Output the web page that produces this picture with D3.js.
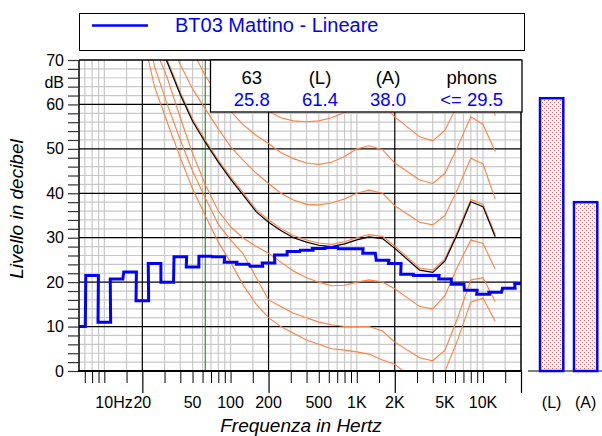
<!DOCTYPE html>
<html>
<head>
<meta charset="utf-8">
<title>BT03 Mattino - Lineare</title>
<script src="https://cdnjs.cloudflare.com/ajax/libs/d3/7.8.5/d3.min.js"></script>
<style>
  body { margin: 0; background: #fff; }
  svg text { font-family: "Liberation Sans", Arial, sans-serif; }
</style>
</head>
<body>
<svg id="chart" width="602" height="436"></svg>
<script>

// measured third-octave spectrum (dB)
var bandFreqs  = [6.3, 8, 10, 12.5, 16, 20, 25, 31.5, 40, 50, 63, 80, 100, 125, 160, 200, 250, 315, 400, 500,
                  630, 800, 1000, 1250, 1600, 2000, 2500, 3150, 4000, 5000, 6300, 8000, 10000, 12500, 16000, 20000];
var bandLevels = [10.0, 21.5, 11.0, 20.7, 22.3, 15.8, 24.2, 20.0, 25.7, 23.4, 25.8, 25.7, 24.5, 24.0, 23.6, 24.3, 26.1, 26.9, 27.2, 27.6,
                  27.8, 27.5, 27.5, 26.5, 24.9, 24.2, 21.8, 21.5, 21.5, 20.7, 19.5, 18.2, 17.3, 17.7, 18.6, 19.7];

// equal loudness contours
var contourFreqs = [20, 25, 31.5, 40, 50, 63, 80, 100, 125, 160, 200, 250, 315, 400, 500, 630, 800, 1000, 1250, 1600,
                    2000, 3150, 4000, 5000, 6300, 8000, 10000, 12500];
var contourMAF = [76, 64, 56, 48, 41, 35, 29, 24.5, 19.5, 15, 12, 10, 8.5, 7, 6, 5, 4.7, 4.3, 3.8, 2.5,
                  1.5, -3, -3.5, 0, 7, 15.5, 16.4, 11.2];
var contour10 = [82, 68.5, 60, 52, 45, 39, 33, 29.5, 26.5, 21, 16, 14.5, 13, 12, 11, 10.4, 10, 10, 10, 9,
                 6.5, 3, 2.3, 4.7, 12, 20.5, 21, 15.6];
var contour20 = [88, 73, 66, 57, 49, 42, 36, 32.5, 30, 28, 26.5, 24.5, 22.5, 21, 20, 19.2, 19.3, 20, 20.5, 20,
                 18.5, 14.5, 14, 17, 23.5, 29.5, 28.7, 22.9];
var contour30 = [82.5, 76.5, 70, 62.7, 56.7, 52, 47.5, 43.7, 40.2, 36.3, 34, 32.1, 30.5, 29.5, 28.8, 28.5, 29.1, 30, 30.7, 30.3,
                 28.1, 23.2, 22.7, 25.3, 31.5, 38.6, 37.5, 30.7];
var contour40 = [88, 82, 75.5, 69, 63.5, 59, 54.5, 50.5, 47.5, 44.5, 42.2, 40, 38.5, 37.5, 37.4, 37.8, 38.7, 40, 40.7, 40,
                 37.2, 33.5, 32.9, 35, 41, 47.9, 46.6, 38.7];
var contour50 = [92, 88, 83, 77.5, 72, 66.5, 62, 58.5, 55.5, 53, 51.2, 49.2, 47.8, 46.8, 46.5, 47, 48.3, 50, 50.7, 49.8,
                 46.8, 43, 42.2, 44.5, 50.5, 57.2, 55.5, 49.4];
var contour60 = [96, 93, 89, 85, 80.5, 76, 71.5, 67.5, 64, 61, 58.5, 57, 56.3, 56.1, 56.3, 57, 58.2, 60, 60.8, 60,
                 57.2, 52.7, 51.8, 54.2, 60, 67, 65.2, 57.5];
// contour of the measured loudness (29.5 phon)
var contourMeasured = [82, 76, 69.5, 62.2, 56.2, 51.5, 47, 43.2, 39.7, 35.8, 33.5, 31.6, 30.0, 29.0, 28.3, 28.0, 28.6, 29.5, 30.2, 29.8,
                       27.6, 22.7, 22.2, 24.8, 31, 38.1, 37.0, 30.2];

var totalLabels = ["(L)", "(A)"];
var totalValues = [61.4, 38.0];

var headerLabels = ["63", "(L)", "(A)", "phons"];
var headerValues = ["25.8", "61.4", "38.0", "<= 29.5"];

var xTickFreqs  = [10, 20, 50, 100, 200, 500, 1000, 2000, 5000, 10000];
var xTickLabels = ["10Hz", "20", "50", "100", "200", "500", "1K", "2K", "5K", "10K"];
var majorFreqs  = [20, 200, 2000, 20000];
var markFreq = 63;

(function() {
  var svg = d3.select("#chart");

  var pL = 79, pR = 521, pT = 60, pB = 371;

  var x = d3.scaleLog().domain([6.3, 20000]).range([pL, pR]);
  var y = d3.scaleLinear().domain([0, 70]).range([pB, pT]);

  // log grid frequencies 1, 1.5, 2, 3 ... 9 per decade
  var gridFreqs = [];
  [1, 10, 100, 1000, 10000].forEach(function(dec) {
    [1, 1.5, 2, 3, 4, 5, 6, 7, 8, 9].forEach(function(m) {
      var f = dec * m;
      if (f > 6.3 && f <= 20000) gridFreqs.push(f);
    });
  });
  var minorFreqs = gridFreqs.filter(function(f) { return majorFreqs.indexOf(f) < 0; });

  // legend
  svg.append("rect").attr("x", 79.5).attr("y", 13.5).attr("width", 445).attr("height", 37)
     .attr("fill", "#fff").attr("stroke", "#000").attr("stroke-width", 1);
  svg.append("line").attr("x1", 92).attr("x2", 148).attr("y1", 25.5).attr("y2", 25.5)
     .attr("stroke", "#0000ff").attr("stroke-width", 2.5);
  svg.append("text").attr("x", 175).attr("y", 32).attr("fill", "#0000ff")
     .style("font-size", "20px").text("BT03 Mattino - Lineare");

  // grid
  var grid = svg.append("g");
  grid.selectAll(".hg").data(d3.range(2, 70, 2).filter(function(d) { return d % 10 !== 0; }))
    .enter().append("line")
    .attr("x1", pL).attr("x2", pR)
    .attr("y1", function(d) { return y(d); }).attr("y2", function(d) { return y(d); })
    .attr("stroke", "#c8c8c8").attr("stroke-width", 1.2);
  grid.selectAll(".vg").data(minorFreqs)
    .enter().append("line")
    .attr("x1", function(d) { return x(d); }).attr("x2", function(d) { return x(d); })
    .attr("y1", pT).attr("y2", pB)
    .attr("stroke", "#c8c8c8").attr("stroke-width", 1.2);
  grid.selectAll(".hb").data(d3.range(10, 70, 10))
    .enter().append("line")
    .attr("x1", pL).attr("x2", pR)
    .attr("y1", function(d) { return y(d); }).attr("y2", function(d) { return y(d); })
    .attr("stroke", "#000").attr("stroke-width", 1.2);
  grid.selectAll(".vb").data([20, 200, 2000])
    .enter().append("line")
    .attr("x1", function(d) { return x(d); }).attr("x2", function(d) { return x(d); })
    .attr("y1", pT).attr("y2", pB)
    .attr("stroke", "#000").attr("stroke-width", 1.2);

  // 63 Hz marker
  svg.append("line").attr("x1", x(markFreq)).attr("x2", x(markFreq)).attr("y1", pT).attr("y2", pB)
     .attr("stroke", "#008000").attr("stroke-width", 1);

  // contours
  svg.append("clipPath").attr("id", "plotclip").append("rect")
     .attr("x", pL).attr("y", pT).attr("width", pR - pL).attr("height", pB - pT);

  var line = d3.line().x(function(d) { return x(d[0]); }).y(function(d) { return y(d[1]); });
  var curves = svg.append("g").attr("clip-path", "url(#plotclip)");

  [contourMAF, contour10, contour20, contour30, contour40, contour50, contour60].forEach(function(vals) {
    curves.append("path")
      .attr("d", line(contourFreqs.map(function(f, i) { return [f, vals[i]]; })))
      .attr("fill", "none").attr("stroke", "#ff8040").attr("stroke-width", 1.1);
  });
  curves.append("path")
    .attr("d", line(contourFreqs.map(function(f, i) { return [f, contourMeasured[i]]; })))
    .attr("fill", "none").attr("stroke", "#000").attr("stroke-width", 1.2);

  // measured spectrum as steps
  var stepPts = [];
  bandFreqs.forEach(function(f, i) {
    var lo = Math.max(f / Math.pow(10, 0.05), x.domain()[0]);
    var hi = Math.min(f * Math.pow(10, 0.05), x.domain()[1]);
    stepPts.push([lo, bandLevels[i]], [hi, bandLevels[i]]);
  });
  curves.append("path").attr("d", line(stepPts))
    .attr("fill", "none").attr("stroke", "#0000ff").attr("stroke-width", 3);

  // frame
  svg.append("line").attr("x1", pL).attr("x2", pR).attr("y1", pT).attr("y2", pT)
     .attr("stroke", "#000").attr("stroke-width", 1.5);
  svg.append("line").attr("x1", pL).attr("x2", pL).attr("y1", pT).attr("y2", pB)
     .attr("stroke", "#000").attr("stroke-width", 1.5);

  // y axis
  var yAxis = d3.axisLeft(y).tickValues(d3.range(0, 71, 2)).tickSize(11).tickPadding(4)
    .tickFormat(function(d) { return d % 10 === 0 ? d : ""; });
  var gy = svg.append("g").attr("transform", "translate(" + pL + ",0)").call(yAxis);
  gy.select(".domain").remove();
  gy.selectAll("line").attr("stroke", "#333").attr("stroke-width", 1.2);
  gy.selectAll("text").style("font-size", "16px").attr("fill", "#000");
  svg.append("text").attr("x", 64).attr("y", y(65)).attr("dy", "0.35em").attr("text-anchor", "end")
     .style("font-size", "16px").text("dB");

  // x axis
  var xAxis = d3.axisBottom(x).tickValues(minorFreqs).tickSize(12).tickFormat("");
  var gx = svg.append("g").attr("transform", "translate(0," + pB + ")").call(xAxis);
  gx.select(".domain").remove();
  gx.selectAll("line").attr("stroke", "#000").attr("stroke-width", 1);
  var xMajor = d3.axisBottom(x).tickValues(majorFreqs).tickSize(22).tickFormat("");
  var gxm = svg.append("g").attr("transform", "translate(0," + pB + ")").call(xMajor);
  gxm.select(".domain").remove();
  gxm.selectAll("line").attr("stroke", "#000").attr("stroke-width", 1.2);
  svg.append("line").attr("x1", pR).attr("x2", pR).attr("y1", pT).attr("y2", pB)
     .attr("stroke", "#000").attr("stroke-width", 1.5);
  svg.append("line").attr("x1", pL - 1).attr("x2", pR + 1).attr("y1", pB).attr("y2", pB)
     .attr("stroke", "#000").attr("stroke-width", 2.2);

  svg.selectAll(".xl").data(xTickFreqs).enter().append("text")
    .attr("x", function(d, i) { return i === 0 ? x(d) - 9 : x(d); })
    .attr("y", 408)
    .attr("text-anchor", function(d, i) { return i === 0 ? "start" : "middle"; })
    .style("font-size", "16px")
    .text(function(d, i) { return xTickLabels[i]; });

  // axis titles
  svg.append("text").attr("transform", "translate(23,209) rotate(-90)").attr("text-anchor", "middle")
     .style("font-size", "19px").style("font-style", "italic").text("Livello in decibel");
  svg.append("text").attr("x", 301).attr("y", 432).attr("text-anchor", "middle")
     .style("font-size", "19px").style("font-style", "italic").text("Frequenza in Hertz");

  // header table
  svg.append("rect").attr("x", 210.5).attr("y", 60).attr("width", 311.5).attr("height", 52)
     .attr("fill", "#fff").attr("stroke", "#000").attr("stroke-width", 1.3);
  var colX = [251.7, 320, 388, 471.7];
  svg.selectAll(".hl").data(headerLabels).enter().append("text")
    .attr("x", function(d, i) { return colX[i]; }).attr("y", 84)
    .attr("text-anchor", "middle").style("font-size", "18.5px").text(function(d) { return d; });
  svg.selectAll(".hv").data(headerValues).enter().append("text")
    .attr("x", function(d, i) { return colX[i]; }).attr("y", 106)
    .attr("text-anchor", "middle").attr("fill", "#0000ff").style("font-size", "18.5px")
    .text(function(d) { return d; });

  // totals bars
  var defs = svg.append("defs");
  var pat = defs.append("pattern").attr("id", "dots").attr("patternUnits", "userSpaceOnUse")
    .attr("width", 4).attr("height", 4);
  pat.append("rect").attr("width", 4).attr("height", 4).attr("fill", "#fff");
  pat.append("rect").attr("x", 0).attr("y", 0).attr("width", 1).attr("height", 1).attr("fill", "#f55a5a");
  pat.append("rect").attr("x", 2).attr("y", 2).attr("width", 1).attr("height", 1).attr("fill", "#f55a5a");

  var xb = d3.scaleBand().domain(totalLabels).range([529, 608.3]).paddingInner(0.315).paddingOuter(0.324);
  svg.append("line").attr("x1", 528).attr("x2", 602).attr("y1", pB).attr("y2", pB)
     .attr("stroke", "#808080").attr("stroke-width", 2);
  svg.selectAll(".bar").data(totalValues).enter().append("rect")
    .attr("x", function(d, i) { return xb(totalLabels[i]); })
    .attr("y", function(d) { return y(d); })
    .attr("width", xb.bandwidth())
    .attr("height", function(d) { return pB - y(d); })
    .attr("fill", "url(#dots)").attr("stroke", "#0000ff").attr("stroke-width", 2.5);
  svg.selectAll(".bl").data(totalLabels).enter().append("text")
    .attr("x", function(d) { return xb(d) + xb.bandwidth() / 2; }).attr("y", 408)
    .attr("text-anchor", "middle").style("font-size", "16px").text(function(d) { return d; });
})();

</script>
</body>
</html>
